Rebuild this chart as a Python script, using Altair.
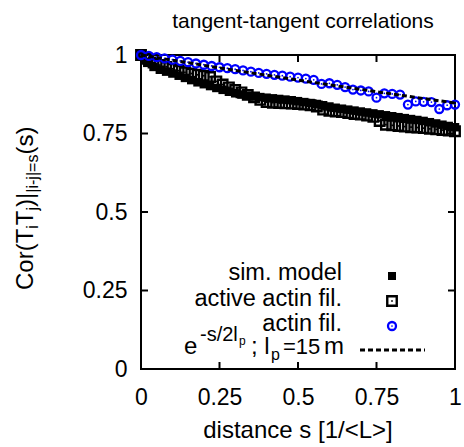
import altair as alt
import pandas as pd

# ---------------- data ----------------
sim_s = [0.00, 0.02, 0.04, 0.06, 0.08, 0.10, 0.12, 0.14, 0.16, 0.18, 0.20, 0.22, 0.24, 0.26, 0.28,
         0.30, 0.32, 0.34, 0.36, 0.38, 0.40, 0.42, 0.44, 0.46, 0.48, 0.50, 0.52, 0.54, 0.56, 0.58,
         0.60, 0.62, 0.64, 0.66, 0.68, 0.70, 0.72, 0.74, 0.76, 0.78, 0.80, 0.82, 0.84, 0.86, 0.88,
         0.90, 0.92, 0.94, 0.96, 0.98, 1.00]
sim_v = [1.000, 0.975, 0.962, 0.953, 0.947, 0.941, 0.934, 0.927, 0.920, 0.913, 0.907, 0.901, 0.895,
         0.889, 0.883, 0.878, 0.874, 0.870, 0.868, 0.866, 0.864, 0.862, 0.860, 0.858, 0.856, 0.853,
         0.850, 0.847, 0.844, 0.840, 0.836, 0.832, 0.829, 0.826, 0.823, 0.820, 0.817, 0.814, 0.811,
         0.808, 0.805, 0.802, 0.799, 0.796, 0.793, 0.790, 0.786, 0.782, 0.778, 0.774, 0.770]

act_s = sim_s
act_v = [1.000, 0.988, 0.976, 0.968, 0.962, 0.956, 0.950, 0.945, 0.941, 0.937, 0.934, 0.930, 0.916,
         0.906, 0.897, 0.889, 0.881, 0.873, 0.865, 0.857, 0.850, 0.848, 0.847, 0.846, 0.845, 0.844,
         0.842, 0.840, 0.836, 0.826, 0.822, 0.820, 0.818, 0.815, 0.812, 0.810, 0.807, 0.803, 0.790,
         0.778, 0.776, 0.774, 0.772, 0.770, 0.769, 0.767, 0.765, 0.763, 0.761, 0.759, 0.757]

fil_s = [0.000, 0.025, 0.050, 0.075, 0.100, 0.125, 0.150, 0.175, 0.200, 0.225, 0.250, 0.275, 0.300,
         0.325, 0.350, 0.375, 0.400, 0.425, 0.450, 0.475, 0.500, 0.525, 0.550, 0.575, 0.600, 0.625,
         0.650, 0.675, 0.700, 0.725, 0.750, 0.775, 0.800, 0.825, 0.850, 0.875, 0.900, 0.925, 0.950,
         0.975, 1.000]
fil_v = [1.000, 0.997, 0.993, 0.989, 0.985, 0.981, 0.977, 0.973, 0.969, 0.965, 0.961, 0.958, 0.955,
         0.951, 0.947, 0.943, 0.940, 0.937, 0.934, 0.931, 0.928, 0.925, 0.921, 0.908, 0.910, 0.905,
         0.898, 0.890, 0.887, 0.884, 0.864, 0.878, 0.876, 0.874, 0.842, 0.852, 0.851, 0.850, 0.828,
         0.840, 0.842]

fit_s = [0.0, 0.25, 0.5, 0.75, 1.0]
fit_v = [1.000, 0.959, 0.920, 0.883, 0.847]

tick_vals = [0, 0.25, 0.5, 0.75, 1]
inner_ticks = [0.25, 0.5, 0.75]

legend_labels = ["sim. model", "active actin fil.", "actin fil."]
title_text = "tangent-tangent correlations"
x_title = "distance s [1/<L>]"

# ---------------- layout helpers ----------------
FONT = "Liberation Sans"
W = H = 314
X0, Y0 = 141, 55  # plot origin in page pixels
BLUE = "#0000ff"


def px(x):
    return x - X0


def py(y):
    return y - Y0


one = pd.DataFrame({"a": [0]})
xs = alt.Scale(domain=[0, 1], nice=False, zero=False)
ys = alt.Scale(domain=[0, 1], nice=False, zero=False)

sim_df = pd.DataFrame({"s": sim_s, "v": sim_v})
act_df = pd.DataFrame({"s": act_s, "v": act_v})
fil_df = pd.DataFrame({"s": fil_s, "v": fil_v})
fit_df = pd.DataFrame({"s": fit_s, "v": fit_v})
tk_df = pd.DataFrame({"s": inner_ticks, "v": inner_ticks})

xaxis = alt.Axis(values=tick_vals, format=".2~f", ticks=False, domain=False, grid=False,
                 labelFontSize=23, labelFont=FONT, labelColor="black", labelPadding=17,
                 title=None, labelFlush=False)
yaxis = alt.Axis(values=tick_vals, format=".2~f", ticks=False, domain=False, grid=False,
                 labelFontSize=23, labelFont=FONT, labelColor="black", labelPadding=14,
                 title=None, labelFlush=False)

X = alt.X("s:Q", scale=xs, axis=xaxis)
Y = alt.Y("v:Q", scale=ys, axis=yaxis)

sim = alt.Chart(sim_df).mark_point(shape="square", filled=True, size=72, color="black", opacity=1).encode(x=X, y=Y)
act = alt.Chart(act_df).mark_point(shape="square", filled=False, size=90, color="black",
                                   strokeWidth=2.4, opacity=1).encode(x=X, y=Y)
act_dot = alt.Chart(act_df).mark_point(shape="square", filled=True, size=3, color="black", opacity=1).encode(x=X, y=Y)
fil = alt.Chart(fil_df).mark_point(shape="circle", filled=False, size=64, color=BLUE,
                                   strokeWidth=2.3, opacity=1).encode(x=X, y=Y)
fil_dot = alt.Chart(fil_df).mark_point(shape="circle", filled=True, size=3, color=BLUE, opacity=1).encode(x=X, y=Y)
fit = alt.Chart(fit_df).mark_line(color="black", strokeWidth=3, strokeDash=[5, 3]).encode(x=X, y=Y)

# inward ticks on all four sides
tb = alt.Chart(tk_df).mark_rule(color="black", strokeWidth=2).encode(
    x=X, y=alt.value(H), y2=alt.value(H - 7))
tt = alt.Chart(tk_df).mark_rule(color="black", strokeWidth=2).encode(
    x=X, y=alt.value(0), y2=alt.value(7))
tl = alt.Chart(tk_df).mark_rule(color="black", strokeWidth=2).encode(
    y=Y, x=alt.value(0), x2=alt.value(7))
tr = alt.Chart(tk_df).mark_rule(color="black", strokeWidth=2).encode(
    y=Y, x=alt.value(W), x2=alt.value(W - 7))


def txt(s, x, y, size, align="left", angle=0):
    kw = dict(align=align, baseline="alphabetic", fontSize=size, font=FONT, color="black")
    if angle:
        kw["angle"] = angle
    return alt.Chart(one).mark_text(**kw).encode(
        x=alt.value(x), y=alt.value(y), text=alt.value(s))


layers = [sim, act, act_dot, fil, fil_dot, fit, tb, tt, tl, tr]

# title and x-axis title
layers.append(txt(title_text, px(303), py(28), 21, align="center"))
layers.append(txt(x_title, px(298), py(438), 24, align="center"))

# rotated y-axis title: Cor(T_i T_j)|_{|i-j|=s}(s)
wid = {"C": .722, "o": .556, "r": .333, "(": .333, ")": .333, "T": .611, "i": .222, "j": .222,
       "|": .26, "-": .333, "=": .584, "s": .5}
pieces = [("Cor(T", 24, 0), ("i", 16, 5), ("T", 24, 0), ("j", 16, 5), (")|", 24, 0),
          ("|i-j|=s", 16, 5), ("(s)", 24, 0)]
ypos = py(290)
for s, size, shift in pieces:
    layers.append(txt(s, px(33 + shift), ypos, size, align="left", angle=270))
    ypos -= sum(wid[c] for c in s) * size

# legend
rows = [280, 305.5, 330.5]
for lab, yb in zip(legend_labels, rows):
    layers.append(txt(lab, px(342), py(yb), 23.5, align="right"))

mk_x = px(392)
layers.append(alt.Chart(one).mark_point(shape="square", filled=True, size=64, color="black", opacity=1)
              .encode(x=alt.value(mk_x), y=alt.value(py(276))))
layers.append(alt.Chart(one).mark_point(shape="square", filled=False, size=90, color="black",
                                        strokeWidth=2.4, opacity=1)
              .encode(x=alt.value(mk_x), y=alt.value(py(301))))
layers.append(alt.Chart(one).mark_point(shape="square", filled=True, size=3, color="black", opacity=1)
              .encode(x=alt.value(mk_x), y=alt.value(py(301))))
layers.append(alt.Chart(one).mark_point(shape="circle", filled=False, size=64, color=BLUE,
                                        strokeWidth=2.3, opacity=1)
              .encode(x=alt.value(mk_x), y=alt.value(py(326))))
layers.append(alt.Chart(one).mark_point(shape="circle", filled=True, size=3, color=BLUE, opacity=1)
              .encode(x=alt.value(mk_x), y=alt.value(py(326))))
layers.append(alt.Chart(one).mark_rule(color="black", strokeWidth=3, strokeDash=[5, 3]).encode(
    x=alt.value(px(360)), x2=alt.value(px(425)), y=alt.value(py(350))))

# formula legend entry: e^{-s/2l_p}; l_p=15 m
FB = 354
layers.append(txt("e", px(184), py(FB), 24))
layers.append(txt("-s/2l", px(200), py(FB - 13), 20))
layers.append(txt("p", px(239), py(FB - 9), 12))
layers.append(txt("; l", px(251), py(FB), 24))
layers.append(txt("p", px(271), py(FB + 6), 16))
layers.append(txt("=15", px(283), py(FB), 22))
layers.append(txt("m", px(344), py(FB), 24, align="right"))

chart = alt.layer(*layers).properties(
    width=W, height=H,
    autosize=alt.AutoSizeParams(type="none"),
    padding={"left": X0, "top": Y0, "right": 464 - X0 - W, "bottom": 447 - Y0 - H},
    background="white",
).configure_view(stroke="black", strokeWidth=2)

chart.save("out.html", embed_options={"renderer": "svg", "actions": False})
